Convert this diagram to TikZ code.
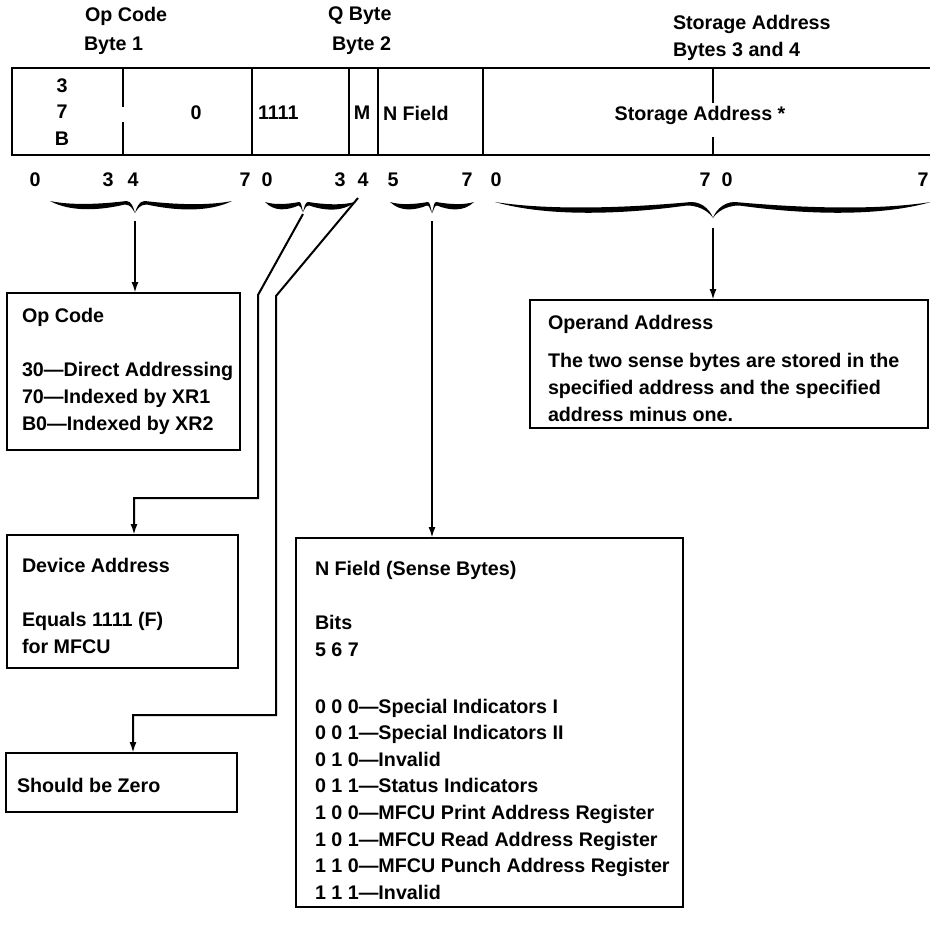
\documentclass[tikz,border=0pt]{standalone}
\usepackage{fontspec}
\setmainfont{Liberation Sans}
\usetikzlibrary{arrows.meta}
% half of a calligraphic brace: #1 end x, #2 tip x, #3 end y, #4 tip y, #5 side sign
\newcommand\mybracehalf[5]{%
  \fill ({#1},{#3}) .. controls ({#1+0.25*(#2-#1)},{#3+(2+0.03*abs(#2-#1))}) and ({#2-0.4*(#2-#1)},{#3+0.7*(2+0.03*abs(#2-#1))}) .. ({#2-0.1*(#2-#1)},{#3})
   .. controls ({#2-0.04*(#2-#1)},{#3}) and ({#2-1.5*(#5)},{#4-5}) .. ({#2},{#4})
   .. controls ({#2-2.5*(#5)},{#4-4}) and ({#2-0.05*(#2-#1)},{#3+3.5}) .. ({#2-0.12*(#2-#1)},{#3+3.5})
   .. controls ({#2-0.4*(#2-#1)},{#3+0.7*(2+0.03*abs(#2-#1))+6}) and ({#1+0.25*(#2-#1)},{#3+(2+0.03*abs(#2-#1))+7}) .. ({#1},{#3}) -- cycle;}
\newcommand\mybrace[5]{\mybracehalf{#1}{#2}{#4}{#5}{1}\mybracehalf{#3}{#2}{#4}{#5}{-1}}
\begin{document}
\begin{tikzpicture}[x=1pt,y=-1pt,
  every node/.style={font=\bfseries\fontsize{19.7}{26.6}\selectfont, inner sep=0pt, outer sep=0pt},
  box/.style={draw, line width=2.4pt, anchor=north west},
  txt/.style={anchor=north west, align=left},
  arr/.style={line width=2pt, -{Latex[length=11pt,width=7pt]}},
  conn/.style={line width=2pt},
  reg/.style={line width=2.4pt}
]
\useasboundingbox (0,0) rectangle (930,929);
\clip (0,0) rectangle (930,929);

% header labels
\node[anchor=west] (h1) at (85,16) {Op Code};
\node[anchor=west] (h2) at (84,46) {Byte 1};
\node[anchor=west] (h3) at (328,16) {Q Byte};
\node[anchor=west] (h4) at (332,46) {Byte 2};
\node[anchor=west] (h5) at (673,24) {Storage Address};
\node[anchor=west] (h6) at (673,51) {Bytes 3 and 4};

% register
\draw[reg] (945,68) -- (12,68) -- (12,155) -- (945,155);
\draw[reg] (123,68) -- (123,107) (123,122) -- (123,155)
  (252,68) -- (252,155) (349,68) -- (349,155) (378,68) -- (378,155)
  (483,68) -- (483,155) (713,68) -- (713,103) (713,137) -- (713,155);
\node[align=center] (fop) at (62,112) {3\\7\\B};
\node (f0) at (196,113) {0};
\node[anchor=west] (f1111) at (258,113) {1111};
\node (fM) at (362,113) {M};
\node[anchor=west] (fN) at (383,113) {N Field};
\node (fS) at (700,115) {Storage Address *};

% bit numbers
\node (b0) at (35,180) {0};
\node (b3) at (108,180) {3};
\node (b4) at (133,180) {4};
\node (b7) at (245,180) {7};
\node (c0) at (267,180) {0};
\node (c3) at (340,180) {3};
\node (c4) at (363,180) {4};
\node (c5) at (393,180) {5};
\node (c7) at (467,180) {7};
\node (d0) at (496,180) {0};
\node (d7) at (705,180) {7};
\node (e0) at (727,180) {0};
\node (e7) at (923,180) {7};

% braces
\mybrace{50}{135}{232}{201}{213}
\mybrace{265}{303}{355}{202}{212}
\mybrace{390}{432}{474}{202}{213}
\mybrace{495}{713}{931}{202}{218}

% boxes
\node[box, minimum width=233pt, minimum height=157pt] (opbox) at (7,293) {};
\node[txt] (optxt) at (22,308) {Op Code\\[28pt]30—Direct Addressing\\70—Indexed by XR1\\B0—Indexed by XR2};

\node[box, minimum width=231pt, minimum height=133pt] (devbox) at (7,535) {};
\node[txt] (devtxt) at (22,558) {Device Address\\[28pt]Equals 1111 (F)\\for MFCU};

\node[box, minimum width=231pt, minimum height=59pt] (zerobox) at (6,753) {};
\node[txt] (zerotxt) at (17,778) {Should be Zero};

\node[box, minimum width=387pt, minimum height=369pt] (nbox) at (296,538) {};
\node[txt] (ntxt) at (315,561) {N Field (Sense Bytes)\\[28pt]Bits\\5 6 7\\[30pt]0 0 0—Special Indicators I\\0 0 1—Special Indicators II\\0 1 0—Invalid\\0 1 1—Status Indicators\\1 0 0—MFCU Print Address Register\\1 0 1—MFCU Read Address Register\\1 1 0—MFCU Punch Address Register\\1 1 1—Invalid};

\node[box, minimum width=398pt, minimum height=128pt] (opdbox) at (530,300) {};
\node[txt] (opdtxt) at (548,315) {Operand Address\\[12pt]The two sense bytes are stored in the\\specified address and the specified\\address minus one.};

% connectors
\coordinate (t1) at (135,221);
\coordinate (t3) at (432,221);
\coordinate (t4) at (713,228);
\draw[arr] (t1) -- (t1 |- opbox.north);
\draw[arr] (t3) -- (t3 |- nbox.north);
\draw[arr] (t4) -- (t4 |- opdbox.north);

\coordinate (t2) at (303,214);
\coordinate (a1) at (258,295);
\coordinate (a2) at (258,498);
\coordinate (a3) at (134,498);
\draw[arr] (t2) -- (a1) -- (a2) -- (a3) -- (a3 |- devbox.north);

\coordinate (q0) at (358,198);
\coordinate (q1) at (276,296);
\coordinate (q2) at (276,715);
\coordinate (q3) at (133,715);
\draw[arr] (q0) -- (q1) -- (q2) -- (q3) -- (q3 |- zerobox.north);
\end{tikzpicture}
\end{document}
